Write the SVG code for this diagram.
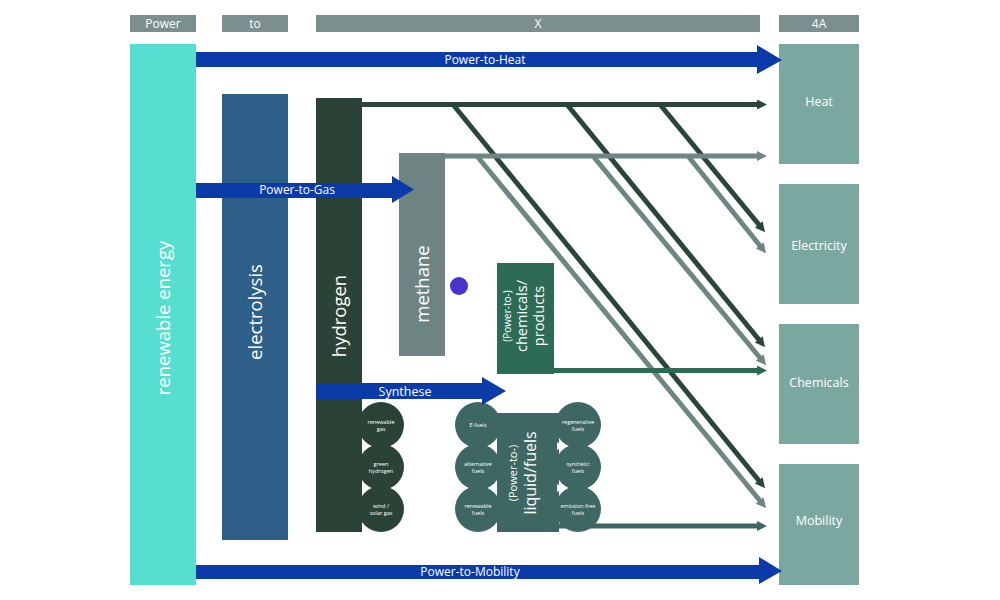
<svg xmlns="http://www.w3.org/2000/svg" width="1000" height="600" viewBox="0 0 1000 600">
<style>
text{font-family:"Open Sans","Liberation Sans",sans-serif;fill:#fff}
.hdr{fill:#7b908e}
.out{fill:#7aa8a0}
.big{font-size:18.5px}
.lbl{font-size:12px}
.tiny{font-size:5.5px}
.blue{fill:#0b3ba8}
</style>
<defs>
<marker id="mDark" markerUnits="userSpaceOnUse" markerWidth="11" markerHeight="11" refX="2" refY="5" orient="auto"><path d="M0,0 L10,5 L0,10 z" fill="#2b4638"/></marker>
<marker id="mGray" markerUnits="userSpaceOnUse" markerWidth="11" markerHeight="11" refX="2" refY="5" orient="auto"><path d="M0,0 L10,5 L0,10 z" fill="#6f8684"/></marker>
<marker id="mGreen" markerUnits="userSpaceOnUse" markerWidth="11" markerHeight="11" refX="2" refY="5" orient="auto"><path d="M0,0 L10,5 L0,10 z" fill="#2e6b57"/></marker>
<marker id="mTeal" markerUnits="userSpaceOnUse" markerWidth="11" markerHeight="11" refX="2" refY="5" orient="auto"><path d="M0,0 L10,5 L0,10 z" fill="#3e6764"/></marker>
</defs>
<rect width="1000" height="600" fill="#fff"/>

<g id="header">
<rect class="hdr" x="130" y="15" width="66" height="17"/>
<rect class="hdr" x="222" y="15" width="66" height="17"/>
<rect class="hdr" x="316" y="15" width="444" height="17"/>
<rect class="hdr" x="779" y="15" width="80" height="17"/>
<text class="lbl" x="163" y="28" text-anchor="middle">Power</text>
<text class="lbl" x="255" y="28" text-anchor="middle">to</text>
<text class="lbl" x="538" y="28" text-anchor="middle">X</text>
<text class="lbl" x="819" y="28" text-anchor="middle">4A</text>
</g>

<g id="renewable">
<rect x="130" y="44" width="66" height="541" fill="#56dfd0"/>
<text class="big" transform="translate(163,318) rotate(-90)" x="0" y="6.5" text-anchor="middle">renewable energy</text>
</g>

<g id="electrolysis">
<rect x="222" y="94" width="66" height="446" fill="#2d5f89"/>
<text class="big" transform="translate(255,312) rotate(-90)" x="0" y="6.5" text-anchor="middle">electrolysis</text>
</g>

<g id="connectors">
<line x1="453" y1="104.5" x2="760" y2="482" stroke="#2b4638" stroke-width="5" marker-end="url(#mDark)"/>
<line x1="567" y1="104.5" x2="760" y2="341" stroke="#2b4638" stroke-width="5" marker-end="url(#mDark)"/>
<line x1="660" y1="104.5" x2="760" y2="226" stroke="#2b4638" stroke-width="5" marker-end="url(#mDark)"/>
<line x1="477" y1="156" x2="761" y2="502" stroke="#6f8684" stroke-width="5" marker-end="url(#mGray)"/>
<line x1="593" y1="156" x2="761" y2="359" stroke="#6f8684" stroke-width="5" marker-end="url(#mGray)"/>
<line x1="688" y1="156" x2="761" y2="247" stroke="#6f8684" stroke-width="5" marker-end="url(#mGray)"/>
<line x1="360" y1="104.5" x2="759" y2="104.5" stroke="#2b4638" stroke-width="5" marker-end="url(#mDark)"/>
<line x1="440" y1="156" x2="759" y2="156" stroke="#6f8684" stroke-width="5" marker-end="url(#mGray)"/>
<line x1="550" y1="370.5" x2="759" y2="370.5" stroke="#2e6b57" stroke-width="5" marker-end="url(#mGreen)"/>
<line x1="555" y1="526" x2="759" y2="526" stroke="#3e6764" stroke-width="5" marker-end="url(#mTeal)"/>
</g>

<g id="hydrogen">
<rect x="316" y="98" width="46" height="434" fill="#2b4336"/>
<text class="big" transform="translate(339,316) rotate(-90)" x="0" y="6.5" text-anchor="middle">hydrogen</text>
</g>

<g id="methane">
<rect x="399" y="153" width="46" height="203" fill="#6e8482"/>
<text class="big" transform="translate(422,284) rotate(-90)" x="0" y="6.5" text-anchor="middle">methane</text>
</g>

<g id="dot">
<circle cx="459" cy="286" r="9" fill="#4634cc"/>
</g>

<g id="chemicals-box">
<rect x="497" y="263" width="57" height="111" fill="#2e6b57"/>
<g transform="translate(525,316) rotate(-90)" text-anchor="middle">
<text x="0" y="-14" style="font-size:10px">(Power-to-)</text>
<text x="0" y="2" style="font-size:14.5px">chemicals/</text>
<text x="0" y="19" style="font-size:14.5px">products</text>
</g>
</g>

<g id="hydrogen-sources">
<circle cx="381" cy="425" r="23" fill="#2b4336"/>
<circle cx="381" cy="467" r="23" fill="#2b4336"/>
<circle cx="381" cy="509" r="23" fill="#2b4336"/>
<path d="M362,443 L368,447 L362,451 z M362,485 L368,489 L362,493 z" fill="#fff"/>
<g class="tiny" text-anchor="middle">
<text x="381" y="424">renewable</text><text x="381" y="431">gas</text>
<text x="381" y="466">green</text><text x="381" y="473">hydrogen</text>
<text x="381" y="508">wind /</text><text x="381" y="515">solar gas</text>
</g>
</g>

<g id="liquid-fuels">
<rect x="497" y="413" width="62" height="119" fill="#3e6764"/>
<circle cx="478" cy="425" r="23" fill="#3e6764"/>
<circle cx="478" cy="467" r="23" fill="#3e6764"/>
<circle cx="478" cy="509" r="23" fill="#3e6764"/>
<circle cx="578" cy="425" r="23" fill="#3e6764"/>
<circle cx="578" cy="467" r="23" fill="#3e6764"/>
<circle cx="578" cy="509" r="23" fill="#3e6764"/>
<path d="M497,442 L491,446 L497,450 z M497,484 L491,488 L497,492 z M557,442 L563,446 L557,450 z M557,484 L563,488 L557,492 z" fill="#fff"/>
<g class="tiny" text-anchor="middle">
<text x="478" y="427">E-fuels</text>
<text x="478" y="466">alternative</text><text x="478" y="473">fuels</text>
<text x="478" y="508">renewable</text><text x="478" y="515">fuels</text>
<text x="578" y="424">regenerative</text><text x="578" y="431">fuels</text>
<text x="578" y="466">synthetic</text><text x="578" y="473">fuels</text>
<text x="578" y="508">emission-free</text><text x="578" y="515">fuels</text>
</g>
<g transform="translate(527,473) rotate(-90)" text-anchor="middle">
<text x="0" y="-10" style="font-size:11px">(Power-to-)</text>
<text x="0" y="9" style="font-size:16px">liquid/fuels</text>
</g>
</g>

<g id="outputs">
<rect class="out" x="779" y="44" width="80" height="120"/>
<rect class="out" x="779" y="184" width="80" height="120"/>
<rect class="out" x="779" y="324" width="80" height="120"/>
<rect class="out" x="779" y="464" width="80" height="121"/>
<g style="font-size:12.5px" text-anchor="middle">
<text x="819" y="106">Heat</text>
<text x="819" y="250">Electricity</text>
<text x="819" y="387">Chemicals</text>
<text x="819" y="525">Mobility</text>
</g>
</g>

<g id="blue-arrows">
<path class="blue" d="M196,52 L757,52 L757,45 L782,60 L757,74 L757,67 L196,67 z"/>
<text class="lbl" x="485" y="64" text-anchor="middle">Power-to-Heat</text>
<path class="blue" d="M196,183 L392,183 L392,176 L414,189.5 L392,203 L392,198 L196,198 z"/>
<text class="lbl" x="297" y="194" text-anchor="middle">Power-to-Gas</text>
<path class="blue" d="M316,383 L482,383 L482,377 L506,391 L482,405 L482,399 L316,399 z"/>
<text class="lbl" x="405" y="396" text-anchor="middle" style="font-size:12.5px">Synthese</text>
<path class="blue" d="M196,565 L759,565 L759,557 L782,571 L759,584 L759,579 L196,579 z"/>
<text class="lbl" x="470" y="576" text-anchor="middle">Power-to-Mobility</text>
</g>
</svg>
